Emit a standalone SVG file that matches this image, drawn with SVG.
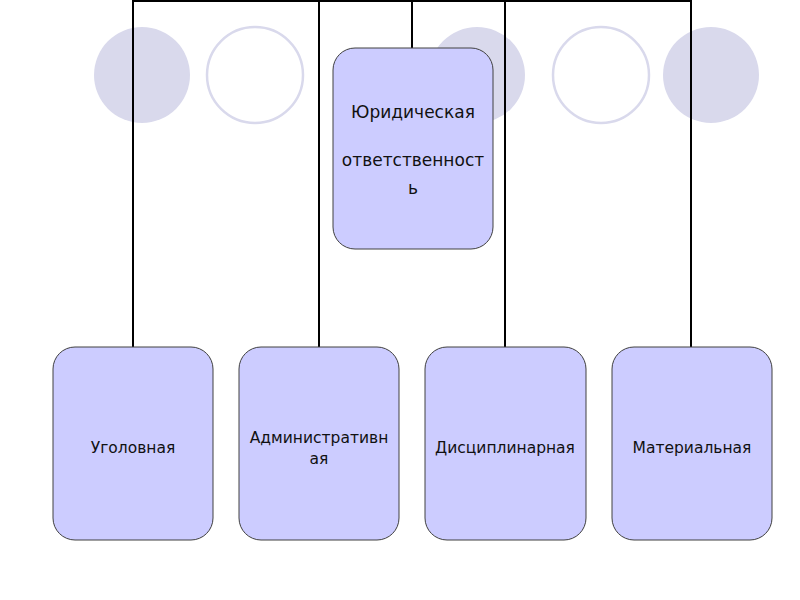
<svg xmlns="http://www.w3.org/2000/svg" width="800" height="600" viewBox="0 0 800 600">
<style>
.bg{fill:#D9D9EC}
.ring{fill:none;stroke:#D9D9EC;stroke-width:2.5}
.node rect{fill:#CCCCFF;stroke:#404040;stroke-width:1}
.node text{font-family:"DejaVu Sans",Verdana,sans-serif;font-size:15.5px;fill:#111;text-anchor:middle}
#root text{font-size:17px}
.conn line{stroke:#000;stroke-width:2}
</style>
<rect width="800" height="600" fill="#fff"/>
<g id="decor">
<circle class="bg" cx="142" cy="75" r="48"/>
<circle class="ring" cx="255" cy="75" r="48"/>
<circle class="bg" cx="477" cy="75" r="48"/>
<circle class="ring" cx="601" cy="75" r="48"/>
<circle class="bg" cx="711" cy="75" r="48"/>
</g>
<g id="connectors" class="conn">
<line x1="133" y1="1" x2="691" y2="1"/>
<line x1="412" y1="0" x2="412" y2="48"/>
<line x1="133" y1="0" x2="133" y2="347"/>
<line x1="319" y1="0" x2="319" y2="347"/>
<line x1="505" y1="0" x2="505" y2="347"/>
<line x1="691" y1="0" x2="691" y2="347"/>
</g>
<g id="root" class="node">
<rect x="333" y="48" width="160" height="201" rx="22"/>
<text x="413" y="118">Юридическая</text>
<text x="413" y="166">ответственност</text>
<text x="413" y="194">ь</text>
</g>
<g id="n1" class="node">
<rect x="53" y="347" width="160" height="193" rx="22"/>
<text x="133" y="453">Уголовная</text>
</g>
<g id="n2" class="node">
<rect x="239" y="347" width="160" height="193" rx="22"/>
<text x="319" y="443">Административн</text>
<text x="319" y="464">ая</text>
</g>
<g id="n3" class="node">
<rect x="425" y="347" width="161" height="193" rx="22"/>
<text x="505" y="453">Дисциплинарная</text>
</g>
<g id="n4" class="node">
<rect x="612" y="347" width="160" height="193" rx="22"/>
<text x="692" y="453">Материальная</text>
</g>
</svg>
